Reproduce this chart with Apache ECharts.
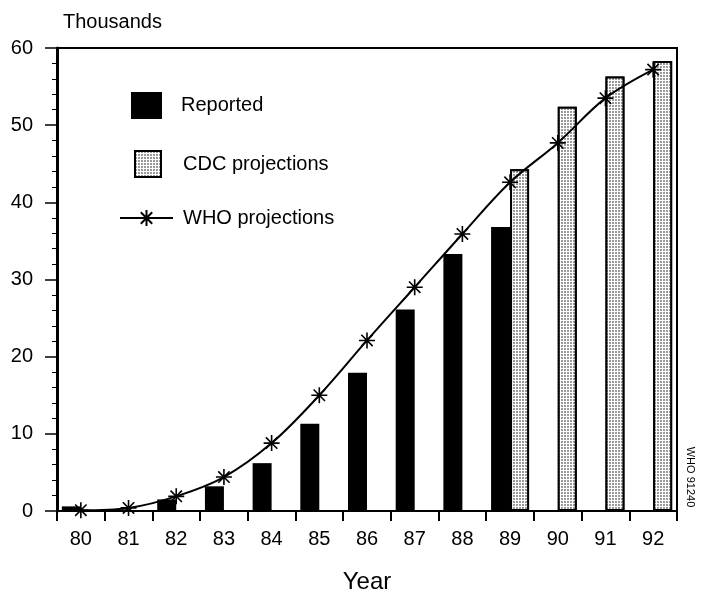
<!DOCTYPE html>
<html>
<head>
<meta charset="utf-8">
<script src="https://cdn.jsdelivr.net/npm/echarts@6/dist/echarts.min.js"></script>
<style>html,body{margin:0;padding:0;background:#fff;}#c{width:701px;height:599px;}</style>
</head>
<body>
<div id="c"></div>
<script>
var years = ['80','81','82','83','84','85','86','87','88','89','90','91','92'];
var reported = [0.6, 0.2, 1.5, 3.2, 6.2, 11.3, 17.9, 26.1, 33.3, 36.8, null, null, null];
var cdcProjections = [null, null, null, null, null, null, null, null, null, 44.3, 52.4, 56.3, 58.3];
var whoProjections = [0.1, 0.4, 1.9, 4.4, 8.8, 15.0, 22.1, 29.0, 35.9, 42.6, 47.7, 53.5, 57.2];
var yTicks = [0, 10, 20, 30, 40, 50, 60];

var FONT = 'Liberation Sans, Arial, sans-serif';
var star = 'path://M8,0L8,16M0,8L16,8M2.3,2.3L13.7,13.7M2.3,13.7L13.7,2.3';
var cdcDecal = {symbol:'circle', symbolSize:0.9, dashArrayX:[2,1], dashArrayY:[2,1], color:'#6a6a6a', backgroundColor:'#ffffff'};

var chart = echarts.init(document.getElementById('c'), null, {renderer:'canvas'});
chart.setOption({
  animation:false,
  backgroundColor:'#fff',
  textStyle:{fontFamily:FONT, color:'#000'},
  grid:{left:57, right:24, top:48, bottom:86, show:true, borderColor:'#000', borderWidth:2, backgroundColor:'transparent'},
  legend:[
    {data:[{name:'Reported', icon:'rect'}], left:131, top:92, padding:0, itemWidth:31, itemHeight:27,
     textStyle:{fontFamily:FONT, fontSize:20, color:'#000', padding:[0,0,0,14]}},
    {data:[{name:'CDC projections', icon:'rect'}], left:134, top:150, padding:0, itemWidth:26, itemHeight:26,
     textStyle:{fontFamily:FONT, fontSize:20, color:'#000', padding:[0,0,0,17]}},
    {data:['WHO projections'], left:119, top:208, padding:0, itemWidth:53, itemHeight:20,
     textStyle:{fontFamily:FONT, fontSize:20, color:'#000', padding:[0,0,6,5]}}
  ],
  xAxis:{
    type:'category', data:years, boundaryGap:true,
    name:'Year', nameLocation:'middle', nameGap:59,
    nameTextStyle:{fontFamily:FONT, fontSize:24, color:'#000'},
    axisLine:{lineStyle:{color:'#000', width:2}},
    axisTick:{show:true, inside:false, length:10, lineStyle:{color:'#000', width:2}},
    axisLabel:{fontFamily:FONT, fontSize:20, color:'#000', margin:18},
    splitLine:{show:false}
  },
  yAxis:{
    type:'value', min:0, max:60, interval:10,
    name:'Thousands', nameLocation:'end', nameGap:16,
    nameTextStyle:{fontFamily:FONT, fontSize:20, color:'#000', align:'left', verticalAlign:'bottom', padding:[0,0,0,6]},
    axisLine:{show:true, lineStyle:{color:'#000', width:3}},
    axisTick:{show:true, inside:false, length:12, lineStyle:{color:'#000', width:1.5}},
    minorTick:{show:true, splitNumber:5, length:5, lineStyle:{color:'#000', width:1}},
    axisLabel:{fontFamily:FONT, fontSize:20, color:'#000', margin:24,
      formatter:function(v){ return yTicks.indexOf(v) >= 0 ? String(v) : ''; }},
    splitLine:{show:false}
  },
  series:[
    {name:'Reported', type:'bar', data:reported, barWidth:19, barGap:'0%',
     itemStyle:{color:'#000', borderColor:'#000', borderWidth:0}},
    {name:'CDC projections', type:'bar', data:cdcProjections, barWidth:19,
     itemStyle:{color:'#ffffff', borderColor:'#000', borderWidth:2, decal:cdcDecal}},
    {name:'WHO projections', type:'line', data:whoProjections, smooth:0.35, z:5,
     symbol:star, symbolSize:16,
     lineStyle:{color:'#000', width:2},
     itemStyle:{color:'#000', borderColor:'#000', borderWidth:1.6}}
  ],
  graphic:[
    {type:'text', x:690, y:477, rotation:-Math.PI/2,
     style:{text:'WHO 91240', fontFamily:FONT, fontSize:11, fill:'#000', align:'center', verticalAlign:'middle'}}
  ]
});
</script>
</body>
</html>
